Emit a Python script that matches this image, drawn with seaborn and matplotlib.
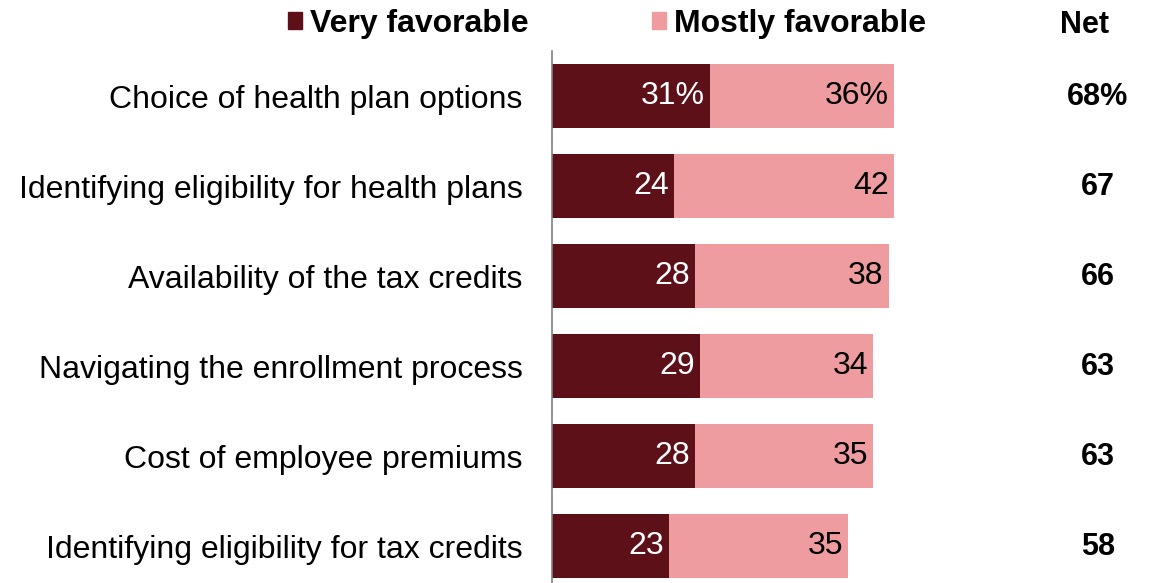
import pandas as pd
import numpy as np
import matplotlib.pyplot as plt
import seaborn as sns
from matplotlib.patches import Patch

categories = ['Choice of health plan options',
              'Identifying eligibility for health plans',
              'Availability of the tax credits',
              'Navigating the enrollment process',
              'Cost of employee premiums',
              'Identifying eligibility for tax credits']
# segment lengths as drawn in the picture
very = [31, 24, 28, 29, 28, 23]
mostly = [36, 43, 38, 34, 35, 35]
# printed labels
very_labels = ['31%', '24', '28', '29', '28', '23']
mostly_labels = ['36%', '42', '38', '34', '35', '35']
net_labels = ['68%', '67', '66', '63', '63', '58']

dark = '#5E1018'
pink = '#EE9CA0'

df = pd.DataFrame({'cat': categories, 'very': very, 'mostly': mostly})
df['total'] = df['very'] + df['mostly']

sns.set_style('white')
plt.rcParams['font.family'] = ['Liberation Sans', 'DejaVu Sans']
plt.rcParams['text.color'] = 'black'
plt.rcParams['ytick.color'] = 'black'
plt.rcParams['ytick.labelcolor'] = 'black'

fig = plt.figure(figsize=(11.54, 5.83), dpi=100)
ax = fig.add_axes([552 / 1154, 0, 1 - 552 / 1154, (583 - 51) / 583])

sns.barplot(data=df, x='total', y='cat', color=pink, width=0.71, ax=ax,
            saturation=1, orient='h', linewidth=0)
sns.barplot(data=df, x='very', y='cat', color=dark, width=0.71, ax=ax,
            saturation=1, orient='h', linewidth=0)

ax.set_xlim(0, 118)
ax.set_ylim(5.41, -0.5)
ax.set_xlabel('')
ax.set_ylabel('')
ax.set_xticks([])
ax.tick_params(axis='y', length=0, pad=21, labelsize=23)
for s in ['top', 'right', 'bottom']:
    ax.spines[s].set_visible(False)
ax.spines['left'].set_color('#808080')
ax.spines['left'].set_linewidth(1.2)

pad = 1.0
for i in range(len(categories)):
    ax.text(very[i] - pad, i, very_labels[i], ha='right', va='center',
            color='white', fontsize=23)
    ax.text(very[i] + mostly[i] - pad, i, mostly_labels[i], ha='right',
            va='center', color='black', fontsize=23)
    ax.text(107, i + 0.01, net_labels[i], ha='center', va='center',
            fontsize=22, fontweight='bold')

fig.text(1085 / 1154, 1 - 25 / 583, 'Net', ha='center', va='center',
         fontsize=22, fontweight='bold')

handles = [Patch(color=dark, label='Very favorable'),
           Patch(color=pink, label='Mostly favorable')]
fig.legend(handles=handles, loc='center', ncol=2,
           bbox_to_anchor=(607 / 1154, 1 - 24 / 583), frameon=False,
           prop={'size': 23, 'weight': 'bold'}, handlelength=0.44,
           handleheight=0.44, handletextpad=0.25, columnspacing=3.85,
           borderpad=0)

plt.savefig('out.png', dpi=100)
